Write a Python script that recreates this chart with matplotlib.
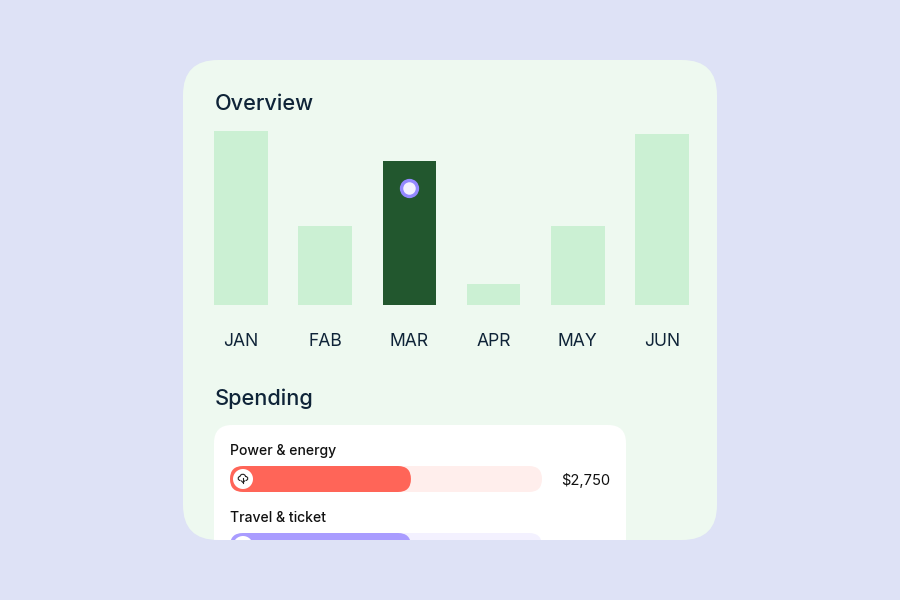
import matplotlib
matplotlib.use("Agg")
import matplotlib.pyplot as plt
from matplotlib.patches import FancyBboxPatch, Circle, PathPatch, Rectangle
from matplotlib.path import Path

months = ["JAN", "FAB", "MAR", "APR", "MAY", "JUN"]
overview = [174, 79, 144, 21, 79, 171]
highlight = "MAR"
marker_value = 117

spend_names = ["Power & energy", "Travel & ticket"]
spend_values = [58, 58]
spend_labels = ["$2,750", ""]
spend_colors = ["#FF6558", "#A99CFF"]
spend_tracks = ["#FFEEEC", "#F3F1FF"]

BG = "#DEE2F6"
CARD = "#EEF9F0"
LIGHT = "#CBF0D3"
DARK = "#22572E"
INK = "#0F2438"
FONT = ["Inter", "DejaVu Sans"]


def rounded(ax, x0, y0, x1, y1, r, **kw):
    p = FancyBboxPatch((x0 + r, y0 + r), x1 - x0 - 2 * r, y1 - y0 - 2 * r,
                       boxstyle=f"round,pad={r},rounding_size={r}", linewidth=0, **kw)
    ax.add_patch(p)
    return p


def pixel_axes(left, width, zorder):
    a = fig.add_axes([left / 900, 0, width / 900, 1], zorder=zorder)
    a.patch.set_alpha(0)
    a.set_xlim(left, left + width)
    a.set_ylim(600, 0)
    a.axis("off")
    return a


fig = plt.figure(figsize=(9, 6), dpi=100, facecolor=BG)
bg = pixel_axes(0, 900, 0)

card = rounded(bg, 183, 60, 717, 540, 35, facecolor=CARD)

bg.text(215, 104, "Overview", fontsize=15.6, color=INK, va="center", ha="left",
        family=FONT, fontweight="medium")
bg.text(215, 398.5, "Spending", fontsize=15.6, color=INK, va="center", ha="left",
        family=FONT, fontweight="medium")

white = rounded(bg, 214, 425, 626, 640, 18, facecolor="white")
white.set_clip_path(card)

# Overview bars
ax = fig.add_axes([199 / 900, (600 - 305) / 600, 505 / 900, 180 / 600], zorder=1)
ax.patch.set_alpha(0)
ax.set_xlim(-0.5, 5.5)
ax.set_ylim(0, 180)
ax.axis("off")
xs = range(len(months))
ax.bar(xs, overview, width=53.6 / 84.17,
       color=[DARK if m == highlight else LIGHT for m in months], linewidth=0)
ax.scatter([months.index(highlight)], [marker_value], s=193, color="#9488FF", linewidth=0, zorder=3)
ax.scatter([months.index(highlight)], [marker_value], s=81, color="#F3F0FF", linewidth=0, zorder=4)
for x, m in zip(xs, months):
    ax.annotate(m, (x, 0), xytext=(0, -36 * 0.72), textcoords="offset points", ha="center",
                va="center", fontsize=12.6, color=INK, family=FONT, annotation_clip=False)

# Spending bars
tx = pixel_axes(0, 900, 8)
bottom_clip = Rectangle((0, 0), 900, 540, transform=tx.transData)
for i, (name, val, lab, col, tr) in enumerate(zip(spend_names, spend_values, spend_labels,
                                                  spend_colors, spend_tracks)):
    top = 466 + 67 * i
    for v, c, z in ((100, tr, 2), (val, col, 3)):
        w = v * 312 / 100
        bar_ax = pixel_axes(230, w, z + i)
        rounded(bar_ax, 230, top, 230 + w, top + 26, 13, facecolor=c).set_clip_path(bottom_clip)
    tx.text(230, top - 15, name, fontsize=10.1, color="#111111", va="center", ha="left",
            family=FONT, fontweight="medium")
    if lab:
        tx.text(561, top + 14, lab, fontsize=10.6, color="#111111", va="center", ha="left", family=FONT)
    c = Circle((243, top + 13), 10, facecolor="white", linewidth=0)
    tx.add_patch(c)
    c.set_clip_path(bottom_clip)
    if i == 0:
        cx, cy = 243, top + 12
        codes = [Path.MOVETO] + [Path.CURVE4] * 9
        v = [(-2.5, 2.5), (-5.5, 2.5), (-5.5, -1.5), (-3, -1.5), (-2.5, -4.5), (2, -4.5), (2.5, -1.5),
             (5.5, -1.5), (5.5, 2.5), (2.5, 2.5)]
        tx.add_patch(PathPatch(Path([(cx + a, cy + b) for a, b in v], codes), facecolor="none",
                               edgecolor="#222222", linewidth=0.8))
        tx.plot([cx, cx], [cy - 0.5, cy + 4.5], color="#222222", lw=0.8)
        tx.plot([cx - 1.5, cx, cx + 1.5], [cy + 3, cy + 4.5, cy + 3], color="#222222", lw=0.8)

fig.savefig("out.png", dpi=100, facecolor=BG)
